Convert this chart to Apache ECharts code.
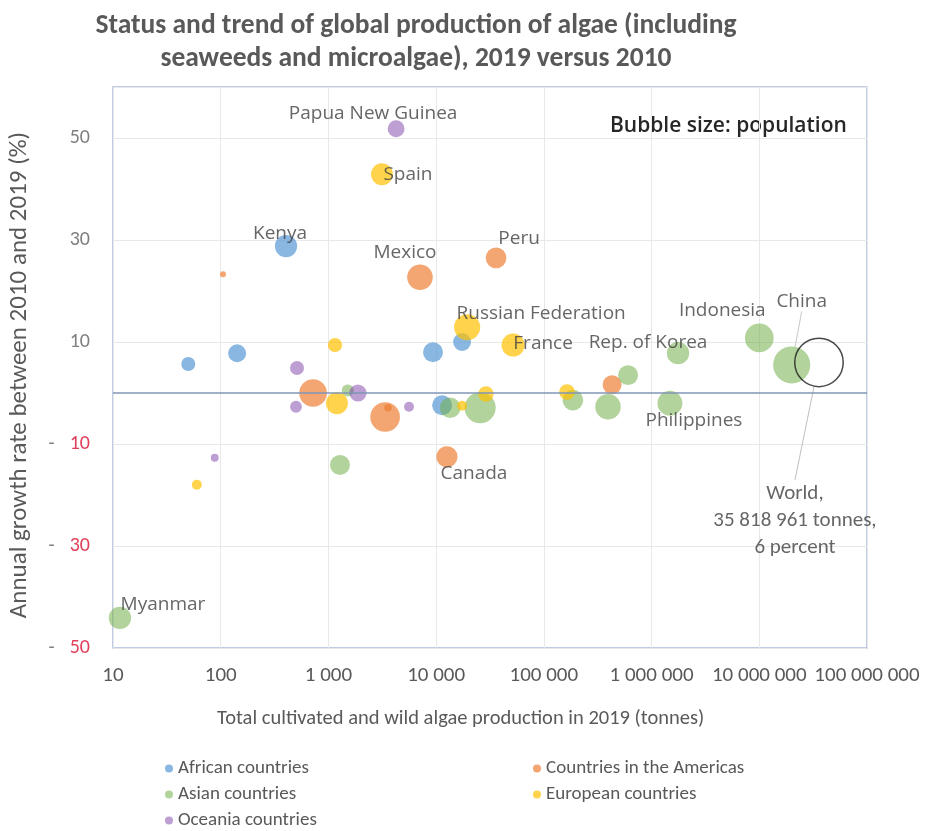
<!DOCTYPE html>
<html>
<head>
<meta charset="utf-8">
<style>
  html, body { margin: 0; padding: 0; background: #ffffff; }
  #chart { width: 925px; height: 831px; }
</style>
<script src="https://cdn.jsdelivr.net/npm/echarts@6/dist/echarts.min.js"></script>
</head>
<body>
<div id="chart"></div>
<script>
// Each point: [production 2019 (tonnes), annual growth 2010-2019 (%), population (millions), label]
const africa = [
  [50, 5.7, 2.7, ''],
  [142, 7.8, 13, ''],
  [404, 28.8, 53, 'Kenya'],
  [9350, 8.0, 26, ''],
  [17400, 10.0, 13, ''],
  [11350, -2.4, 26, '']
];
const americas = [
  [105, 23.3, 0.012, ''],
  [7080, 22.7, 128, 'Mexico'],
  [720, 0.0, 211, ''],
  [3360, -4.7, 330, ''],
  [3570, -2.9, 0.05, ''],
  [12600, -12.5, 38, 'Canada'],
  [36000, 26.5, 33, 'Peru'],
  [430000, 1.6, 19, '']
];
const asia = [
  [11.6, -44.1, 54, 'Myanmar'],
  [1510, 0.5, 1, ''],
  [1280, -14.1, 26, ''],
  [13500, -2.9, 32, ''],
  [25600, -2.9, 450, ''],
  [186000, -1.4, 32, ''],
  [394000, -2.7, 126, ''],
  [605000, 3.5, 26, ''],
  [1760000, 7.8, 52, 'Rep. of Korea'],
  [1480000, -2.0, 108, 'Philippines'],
  [10000000, 10.8, 270, 'Indonesia'],
  [20000000, 5.5, 1398, 'China']
];
const europe = [
  [60, -18.0, 0.3, ''],
  [1150, 9.4, 3, ''],
  [1200, -2.0, 48, ''],
  [3140, 42.9, 47, 'Spain'],
  [19400, 12.9, 145, 'Russian Federation'],
  [17400, -2.5, 0.3, ''],
  [29000, -0.2, 4.9, ''],
  [51800, 9.4, 67, 'France'],
  [164000, 0.2, 5.4, '']
];
const oceania = [
  [88, -12.7, 0.07, ''],
  [511, 4.9, 2.7, ''],
  [500, -2.7, 0.9, ''],
  [1880, 0.0, 10, ''],
  [4250, 51.8, 9, 'Papua New Guinea'],
  [5600, -2.7, 0.3, '']
];
const world = [[35818961, 6, 7700, 'World,\n35 818 961 tonnes,\n6 percent']];

const groupNames = ['African countries', 'Countries in the Americas', 'Asian countries', 'European countries', 'Oceania countries'];
const yTicks = [-50, -30, -10, 10, 30, 50];

// label placement (text centre relative to bubble centre, px)
const labelShift = {
  'Kenya': [-6, -13],
  'Mexico': [-15, -25],
  'Canada': [27, 17],
  'Peru': [23, -19],
  'Myanmar': [43, -13],
  'Rep. of Korea': [-30, -11],
  'Philippines': [24, 17],
  'Indonesia': [-37, -27],
  'China': [10, -63],
  'Spain': [26, 0],
  'Russian Federation': [74, -14],
  'France': [30, -1],
  'Papua New Guinea': [-23, -15]
};
const withLeader = { 'China': true };

const sizeOf = v => 12 * Math.pow(v[2], 0.156);
const spaced = n => String(Math.round(n)).replace(/\B(?=(\d{3})+(?!\d))/g, ' ');

function items(rows) {
  return rows.map(r => {
    const it = { name: r[3], value: [r[0], r[1], r[2]] };
    if (r[3]) {
      it.label = { show: true };
      if (withLeader[r[3]]) it.labelLine = { show: true };
    }
    return it;
  });
}

const labelFont = { fontFamily: "'Open Sans', sans-serif", fontSize: 19, color: '#404040' };
const calibri = "Carlito, 'Liberation Sans Narrow', 'Open Sans', sans-serif";

function bubbleSeries(name, rows, color) {
  return {
    name: name,
    type: 'scatter',
    data: items(rows),
    symbolSize: sizeOf,
    itemStyle: { color: color },
    label: Object.assign({ show: false, position: 'inside', formatter: p => p.name }, labelFont),
    labelLine: { show: false, lineStyle: { color: '#c8c8c8', width: 1 } },
    labelLayout: p => {
      const s = labelShift[p.text];
      return s ? { dx: s[0], dy: s[1] } : {};
    },
    emphasis: { disabled: true }
  };
}

const chart = echarts.init(document.getElementById('chart'));
const series = [
  bubbleSeries(groupNames[0], africa, 'rgba(91,155,213,0.9)'),
  bubbleSeries(groupNames[1], americas, 'rgba(237,125,49,0.85)'),
  bubbleSeries(groupNames[2], asia, 'rgba(112,173,71,0.68)'),
  bubbleSeries(groupNames[3], europe, 'rgba(255,192,0,0.88)'),
  bubbleSeries(groupNames[4], oceania, 'rgba(112,48,160,0.58)'),
  {
    name: 'World',
    type: 'scatter',
    data: world.map(r => ({ name: r[3], value: [r[0], r[1], r[2]], label: { show: true }, labelLine: { show: true } })),
    symbolSize: sizeOf,
    itemStyle: { color: 'rgba(255,255,255,0)', borderColor: '#1a1a1a', borderWidth: 1.5 },
    label: { show: true, position: 'inside', formatter: p => p.name, fontFamily: calibri, fontSize: 21, lineHeight: 27, color: '#404040', align: 'center' },
    labelLine: { show: true, lineStyle: { color: '#bfbfbf', width: 1 } },
    labelLayout: { dx: -24, dy: 158 },
    emphasis: { disabled: true },
    markLine: {
      silent: true,
      symbol: 'none',
      label: { show: false },
      lineStyle: { color: '#7f96b6', width: 1.5, type: 'solid' },
      data: [{ yAxis: 0 }]
    }
  }
];

chart.setOption({
  animation: false,
  backgroundColor: '#ffffff',
  title: {
    text: 'Status and trend of global production of algae (including\nseaweeds and microalgae), 2019 versus 2010',
    left: 411,
    top: 5,
    textAlign: 'center',
    textStyle: { fontFamily: calibri, fontSize: 27.5, fontWeight: 'bold', color: '#595959', lineHeight: 33, align: 'center' }
  },
  grid: {
    left: 113, right: 58, top: 87, bottom: 183,
    show: true, borderColor: '#a9bcdc', borderWidth: 1.5, backgroundColor: '#ffffff'
  },
  legend: [
    {
      left: 160, top: 754, height: 90, orient: 'vertical', itemGap: 7, itemWidth: 8, itemHeight: 8, icon: 'circle',
      data: [groupNames[0], groupNames[2], groupNames[4]],
      textStyle: { fontFamily: calibri, fontSize: 19, color: '#595959' }
    },
    {
      left: 528, top: 754, height: 90, orient: 'vertical', itemGap: 7, itemWidth: 8, itemHeight: 8, icon: 'circle',
      data: [groupNames[1], groupNames[3]],
      textStyle: { fontFamily: calibri, fontSize: 19, color: '#595959' }
    }
  ],
  xAxis: {
    type: 'log',
    logBase: 10,
    min: 10,
    max: 100000000,
    axisLine: { show: false },
    axisTick: { show: false },
    splitLine: { show: true, lineStyle: { color: '#e8e8e8', width: 1 } },
    axisLabel: { margin: 17, fontFamily: calibri, fontSize: 21, color: '#595959', formatter: v => spaced(v) }
  },
  yAxis: {
    type: 'value',
    min: -50,
    max: 60,
    interval: 20,
    axisLine: { show: false },
    axisTick: { show: false },
    splitLine: { show: true, lineStyle: { color: '#e8e8e8', width: 1 } },
    axisLabel: {
      margin: 23,
      fontFamily: calibri,
      fontSize: 20,
      color: '#7f7f7f',
      formatter: v => {
        if (yTicks.indexOf(v) < 0) return '';
        return v < 0 ? '{d|-}{n|' + (-v) + '}' : String(v);
      },
      rich: {
        d: { color: '#7f7f7f', fontFamily: calibri, fontSize: 20, padding: [0, 15, 0, 0] },
        n: { color: '#e0405a', fontFamily: calibri, fontSize: 20 }
      }
    }
  },
  graphic: [
    {
      type: 'text', x: 20, y: 375, rotation: Math.PI / 2,
      style: { text: 'Annual growth rate between 2010 and 2019 (%)', fontFamily: calibri, fontSize: 25, fill: '#595959', align: 'center', verticalAlign: 'middle' }
    },
    {
      type: 'text', left: 217, top: 708,
      style: { text: 'Total cultivated and wild algae production in 2019 (tonnes)', fontFamily: calibri, fontSize: 20.5, fill: '#595959' }
    },
    {
      type: 'text', left: 610, top: 116,
      style: { text: 'Bubble size: population', fontFamily: "'Open Sans', sans-serif", fontSize: 21, fontWeight: 600, fill: '#262626' }
    }
  ],
  series: series
});
</script>
</body>
</html>
